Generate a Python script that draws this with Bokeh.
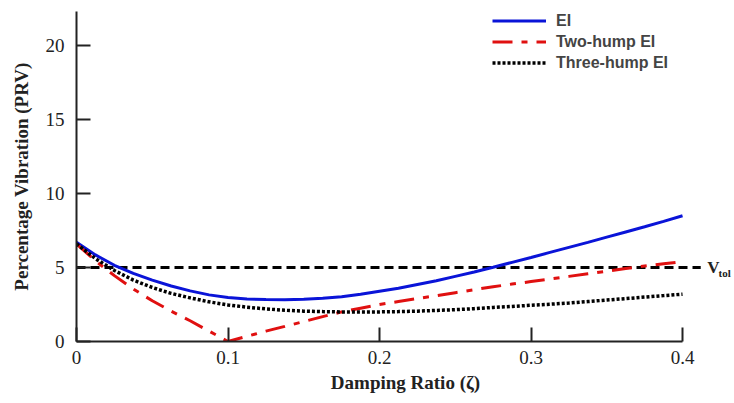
from bokeh.plotting import figure
from bokeh.models import Range1d, Legend, LegendItem, Label
from bokeh.embed import file_html
from bokeh.resources import INLINE

zeta = [0.0, 0.0125, 0.025, 0.0375, 0.05, 0.0625, 0.075, 0.0875, 0.1, 0.1125,
        0.125, 0.1375, 0.15, 0.1625, 0.175, 0.1875, 0.2, 0.2125, 0.225, 0.2375,
        0.25, 0.2625, 0.275, 0.2875, 0.3, 0.3125, 0.325, 0.3375, 0.35, 0.3625,
        0.375, 0.3875, 0.4]
ei = [6.7, 5.85, 5.15, 4.6, 4.15, 3.75, 3.42, 3.15, 2.97, 2.87,
      2.83, 2.82, 2.85, 2.92, 3.03, 3.2, 3.4, 3.6, 3.85, 4.1,
      4.4, 4.7, 5.02, 5.35, 5.68, 6.02, 6.36, 6.7, 7.05, 7.4,
      7.75, 8.12, 8.5]
two_hump = [6.6, 5.45, 4.45, 3.55, 2.75, 2.05, 1.4, 0.7, 0.0, 0.35,
            0.7, 1.02, 1.35, 1.68, 2.0, 2.25, 2.5, 2.7, 2.9, 3.1,
            3.3, 3.5, 3.7, 3.88, 4.05, 4.22, 4.4, 4.58, 4.75, 4.93,
            5.1, 5.25, 5.4]
three_hump = [6.6, 5.6, 4.8, 4.15, 3.65, 3.25, 2.95, 2.68, 2.47, 2.32,
              2.2, 2.11, 2.05, 2.02, 2.0, 1.99, 2.0, 2.02, 2.05, 2.1,
              2.15, 2.22, 2.3, 2.37, 2.45, 2.52, 2.6, 2.7, 2.8, 2.9,
              3.0, 3.1, 3.2]
vtol_x = [0.0, 0.412]
vtol_y = [5.0, 5.0]
x_ticks = [0, 0.1, 0.2, 0.3, 0.4]
x_tick_labels = {0: "0", 0.1: "0.1", 0.2: "0.2", 0.3: "0.3", 0.4: "0.4"}
y_ticks = [0, 5, 10, 15, 20]

p = figure(width=734, height=403, output_backend="svg", toolbar_location=None,
           x_range=Range1d(0, 0.4343), y_range=Range1d(0, 22.3),
           min_border_left=76, min_border_right=0, min_border_top=11,
           min_border_bottom=62)
p.outline_line_color = None
p.xgrid.visible = False
p.ygrid.visible = False
p.background_fill_color = "white"

r_vtol = p.line(vtol_x, vtol_y, line_color="black", line_width=3, line_dash="9 5")
r_ei = p.line(zeta, ei, line_color="#0a14d8", line_width=3)
r_two = p.line(zeta, two_hump, line_color="#e01010", line_width=3, line_dash="20 9 6 9")
r_three = p.line(zeta, three_hump, line_color="black", line_width=3.5, line_dash="3 2")

legend = Legend(items=[LegendItem(label="EI", renderers=[r_ei]),
                       LegendItem(label="Two-hump EI", renderers=[r_two]),
                       LegendItem(label="Three-hump EI", renderers=[r_three])])
legend.border_line_color = None
legend.background_fill_alpha = 0
legend.label_text_font = "Liberation Sans"
legend.label_text_font_style = "bold"
legend.label_text_font_size = "16px"
legend.glyph_width = 54
legend.glyph_height = 21
legend.spacing = 0
legend.label_height = 21
legend.margin = 0
legend.padding = 0
legend.label_standoff = 10
legend.location = (416, 268)
p.add_layout(legend)

for ax in (p.xaxis, p.yaxis):
    ax.major_tick_in = 14
    ax.major_tick_out = 0
    ax.minor_tick_in = 0
    ax.minor_tick_out = 0
    ax.axis_line_width = 2
    ax.major_tick_line_width = 2
    ax.axis_line_color = "#222222"
    ax.major_tick_line_color = "#222222"
    ax.major_label_text_font = "Liberation Serif"
    ax.major_label_text_font_size = "19px"
    ax.major_label_text_color = "#222222"
    ax.axis_label_text_font = "Liberation Serif"
    ax.axis_label_text_font_style = "bold"
    ax.axis_label_text_font_size = "19px"
    ax.axis_label_text_color = "#222222"

p.xaxis.ticker = x_ticks
p.xaxis.major_label_overrides = x_tick_labels
p.xaxis.bounds = (0, 0.4)
p.xaxis.axis_label = "Damping Ratio (ζ)"
p.xaxis.major_label_standoff = 9
p.xaxis.axis_label_standoff = 5

p.yaxis.ticker = y_ticks
p.yaxis.axis_label = "Percentage Vibration (PRV)"
p.yaxis.major_label_standoff = 12
p.yaxis.axis_label_standoff = 11

p.add_layout(Label(x=0.4163, y=5.0, text="V", text_font="Liberation Serif",
                   text_font_style="bold", text_font_size="17px",
                   text_baseline="middle", text_color="#222222"))
p.add_layout(Label(x=0.4238, y=4.6, text="tol", text_font="Liberation Serif",
                   text_font_style="bold", text_font_size="11px",
                   text_baseline="middle", text_color="#222222"))

open("out.html", "w").write(file_html(p, INLINE))
